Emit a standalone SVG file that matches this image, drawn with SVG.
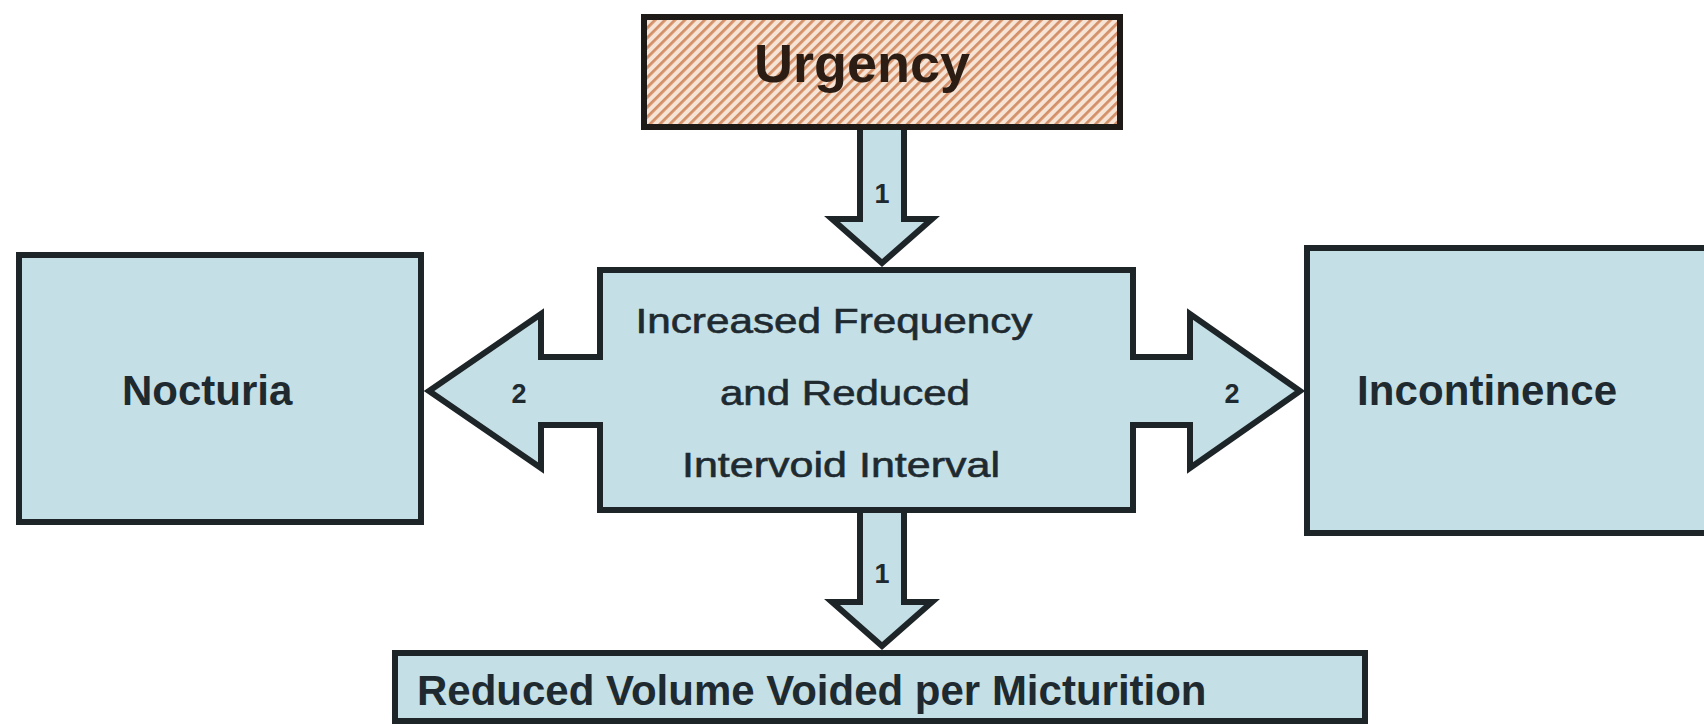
<svg xmlns="http://www.w3.org/2000/svg" width="1704" height="724" viewBox="0 0 1704 724">
  <style>
    .box { fill: #c4dfe5; stroke: #1d2528; stroke-width: 6; }
    .afill { fill: #c4dfe5; stroke: none; }
    .aline { fill: none; stroke: #1d2528; stroke-width: 6; stroke-linejoin: miter; stroke-miterlimit: 10; }
    .lbl { font-family: "Liberation Sans", Arial, sans-serif; font-weight: bold; font-size: 42px; fill: #1e2a30; }
    .mid { font-family: "Liberation Sans", Arial, sans-serif; font-size: 35px; fill: #1e2a30; stroke: #1e2a30; stroke-width: 0.6; text-anchor: middle; }
    .num { font-family: "Liberation Sans", Arial, sans-serif; font-weight: bold; font-size: 27px; fill: #1e2a30; text-anchor: middle; }
  </style>
  <defs>
    <pattern id="hatch" patternUnits="userSpaceOnUse" width="7" height="7" patternTransform="rotate(45)">
      <rect x="0" y="0" width="7" height="7" fill="#f6e4d6"/>
      <rect x="0" y="0" width="2.8" height="7" fill="#d38f67"/>
    </pattern>
  </defs>
  <rect width="1704" height="724" fill="#ffffff"/>

  <g id="nodes">
    <g id="urgency">
      <rect x="644" y="17" width="476" height="110" fill="url(#hatch)" stroke="#1d1a18" stroke-width="6"/>
      <text x="862" y="82" font-family="Liberation Sans, Arial, sans-serif" font-weight="bold" font-size="54" fill="#2b1d14" text-anchor="middle">Urgency</text>
    </g>
    <g id="center">
      <rect class="box" x="600" y="270" width="533" height="240"/>
      <text class="mid" x="834" y="333" textLength="397" lengthAdjust="spacingAndGlyphs">Increased Frequency</text>
      <text class="mid" x="845" y="405" textLength="250" lengthAdjust="spacingAndGlyphs">and Reduced</text>
      <text class="mid" x="841" y="477" textLength="318" lengthAdjust="spacingAndGlyphs">Intervoid Interval</text>
    </g>
    <g id="nocturia">
      <rect class="box" x="19" y="255" width="402" height="267"/>
      <text class="lbl" x="122" y="405">Nocturia</text>
    </g>
    <g id="incontinence">
      <rect class="box" x="1307" y="248" width="420" height="285"/>
      <text class="lbl" x="1357" y="405" textLength="260" lengthAdjust="spacing">Incontinence</text>
    </g>
    <g id="reduced-volume">
      <rect class="box" x="395" y="653" width="970" height="68"/>
      <text class="lbl" x="417" y="705">Reduced Volume Voided per Micturition</text>
    </g>
  </g>

  <g id="connectors">
    <g id="arrow-top">
      <polygon class="afill" points="860,130 904,130 904,219 932,219 882,263 832,219 860,219"/>
      <polyline class="aline" points="860,130 860,219 832,219 882,263 932,219 904,219 904,130"/>
      <text class="num" x="882" y="203">1</text>
    </g>
    <g id="arrow-bottom">
      <polygon class="afill" points="860,513 904,513 904,602 932,602 882,646 832,602 860,602"/>
      <polyline class="aline" points="860,513 860,602 832,602 882,646 932,602 904,602 904,513"/>
      <text class="num" x="882" y="583">1</text>
    </g>
    <g id="arrow-left">
      <polygon class="afill" points="603,357 541,357 541,314 429,391 541,468 541,425 603,425"/>
      <polyline class="aline" points="600,273 600,357 541,357 541,314 429,391 541,468 541,425 600,425 600,507"/>
      <text class="num" x="519" y="403">2</text>
    </g>
    <g id="arrow-right">
      <polygon class="afill" points="1130,357 1190,357 1190,314 1300,391 1190,468 1190,425 1130,425"/>
      <polyline class="aline" points="1133,273 1133,357 1190,357 1190,314 1300,391 1190,468 1190,425 1133,425 1133,507"/>
      <text class="num" x="1232" y="403">2</text>
    </g>
  </g>
</svg>
